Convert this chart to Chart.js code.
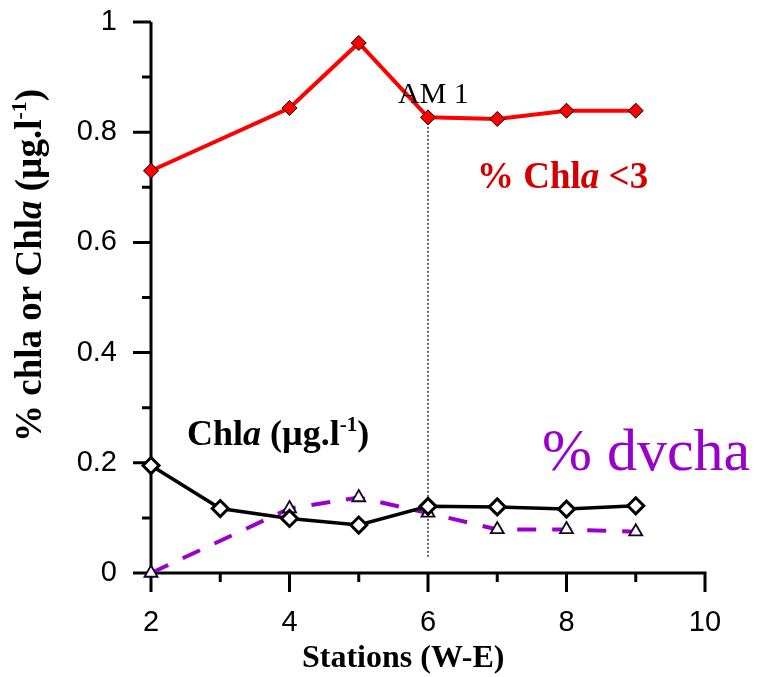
<!DOCTYPE html>
<html>
<head>
<meta charset="utf-8">
<script src="https://cdn.jsdelivr.net/npm/chart.js@4.4.0/dist/chart.umd.min.js"></script>
<style>
body { margin: 0; background: #fff; }
canvas { display: block; }
</style>
</head>
<body>
<canvas id="myChart" width="762" height="677"></canvas>
<script>
// values
const redStations = [2, 4, 5, 6, 7, 8, 9];
const chlaSmall = [0.730, 0.844, 0.962, 0.827, 0.824, 0.839, 0.839];
const blackStations = [2, 3, 4, 5, 6, 7, 8, 9];
const chlaConc = [0.195, 0.117, 0.099, 0.087, 0.121, 0.120, 0.116, 0.122];
const dvStations = [2, 4, 5, 6, 7, 8, 9];
const dvcha = [0, 0.117, 0.137, 0.109, 0.079, 0.079, 0.075];
const am1Station = 6;
const am1Range = [0.817, 0.029];
const xTickLabels = [2, 4, 6, 8, 10];
const yTickLabels = ['0', '0.2', '0.4', '0.6', '0.8', '1'];

const sans = '"Liberation Sans", Arial, sans-serif';
const serif = '"Liberation Serif", "Times New Roman", serif';

const pts = (xs, ys) => xs.map((x, i) => ({x: x, y: ys[i]}));

function drawRuns(ctx, x, y, runs, color) {
    ctx.fillStyle = color;
    ctx.textAlign = 'left';
    ctx.textBaseline = 'alphabetic';
    runs.forEach(r => {
        ctx.font = r[1];
        ctx.fillText(r[0], x, y + (r[2] || 0));
        x += ctx.measureText(r[0]).width;
    });
}

// axis lines with long (labelled) and short ticks
const axesPlugin = {
    id: 'axes',
    beforeDatasetsDraw(chart) {
        const {ctx, chartArea: a, scales: {x, y}} = chart;
        ctx.save();
        ctx.strokeStyle = '#000';
        ctx.lineWidth = 3;
        ctx.beginPath();
        ctx.moveTo(a.left, a.top);
        ctx.lineTo(a.left, a.bottom);
        ctx.moveTo(a.left - 1.5, a.bottom);
        ctx.lineTo(a.right + 1.5, a.bottom);
        y.ticks.forEach(t => {
            const py = y.getPixelForValue(t.value);
            const len = Math.round(t.value * 10) % 2 === 0 ? 18 : 9;
            ctx.moveTo(a.left - len, py);
            ctx.lineTo(a.left, py);
        });
        x.ticks.forEach(t => {
            const px = x.getPixelForValue(t.value);
            const len = Math.round(t.value) % 2 === 0 ? 19 : 9;
            ctx.moveTo(px, a.bottom);
            ctx.lineTo(px, a.bottom + len);
        });
        ctx.stroke();
        ctx.restore();
    }
};

const labelsPlugin = {
    id: 'labels',
    afterDraw(chart) {
        const ctx = chart.ctx;
        ctx.save();
        drawRuns(ctx, 398, 103, [['AM 1', '30px ' + serif]], '#000');
        drawRuns(ctx, 477, 188, [['% Chl', 'bold 37px ' + serif], ['a', 'italic bold 37px ' + serif], [' <3', 'bold 37px ' + serif]], '#d40000');
        drawRuns(ctx, 187, 445, [['Chl', 'bold 36px ' + serif], ['a', 'italic bold 36px ' + serif], [' (µg.l', 'bold 36px ' + serif], ['-1', 'bold 21px ' + serif, -14], [')', 'bold 36px ' + serif]], '#000');
        drawRuns(ctx, 542, 470, [['% dvcha', '60px ' + serif]], '#9900cc');
        drawRuns(ctx, 302, 667, [['Stations (W-E)', 'bold 32px ' + serif]], '#000');
        ctx.translate(41, 442);
        ctx.rotate(-Math.PI / 2);
        drawRuns(ctx, 0, 0, [['% chla or Chl', 'bold 37px ' + serif], ['a', 'italic bold 37px ' + serif], [' (µg.l', 'bold 37px ' + serif], ['-1', 'bold 22px ' + serif, -15], [')', 'bold 37px ' + serif]], '#000');
        ctx.restore();
    }
};

const ctx = document.getElementById('myChart').getContext('2d');
const myChart = new Chart(ctx, {
    type: 'scatter',
    data: {
        datasets: [{
            label: 'Chla',
            data: pts(blackStations, chlaConc),
            showLine: true,
            borderColor: '#000',
            borderWidth: 3.5,
            pointStyle: 'rectRot',
            pointRadius: 8,
            pointBackgroundColor: '#fff',
            pointBorderColor: '#000',
            pointBorderWidth: 3,
            clip: false
        }, {
            label: '% dvcha',
            data: pts(dvStations, dvcha),
            showLine: true,
            borderColor: '#9900cc',
            borderWidth: 4,
            borderDash: [19, 16],
            pointStyle: 'triangle',
            pointRadius: 7.5,
            pointBackgroundColor: '#fff',
            pointBorderColor: '#1a0026',
            pointBorderWidth: 1.8,
            clip: false
        }, {
            label: '% Chla <3',
            data: pts(redStations, chlaSmall),
            showLine: true,
            borderColor: '#ff0000',
            borderWidth: 4,
            pointStyle: 'rectRot',
            pointRadius: 7.5,
            pointBackgroundColor: '#ff0000',
            pointBorderColor: '#000',
            pointBorderWidth: 1,
            clip: false
        }, {
            label: 'AM 1',
            data: pts([am1Station, am1Station], am1Range),
            showLine: true,
            borderColor: '#000',
            borderWidth: 1.2,
            borderDash: [2, 2],
            pointRadius: 0,
            clip: false
        }]
    },
    options: {
        responsive: false,
        animation: false,
        devicePixelRatio: 1,
        layout: { padding: { top: 22, right: 57, left: 0, bottom: 0 } },
        plugins: { legend: { display: false }, tooltip: { enabled: false } },
        scales: {
            x: {
                type: 'linear',
                min: 2,
                max: 10,
                afterFit(s) { s.height = 104; s.paddingLeft = 0; s.paddingRight = 0; },
                grid: { display: false, drawTicks: false },
                border: { display: false },
                ticks: {
                    stepSize: 1,
                    autoSkip: false,
                    maxRotation: 0,
                    padding: 33,
                    color: '#000',
                    font: { family: sans, size: 29 },
                    callback: v => xTickLabels.includes(v) ? String(v) : ''
                }
            },
            y: {
                min: 0,
                max: 1,
                afterFit(s) { s.width = 151; s.paddingTop = 0; s.paddingBottom = 0; },
                grid: { display: false, drawTicks: false },
                border: { display: false },
                ticks: {
                    stepSize: 0.1,
                    autoSkip: false,
                    padding: 34,
                    color: '#000',
                    font: { family: sans, size: 29 },
                    callback: v => {
                        const k = Math.round(v * 10);
                        return k % 2 === 0 ? yTickLabels[k / 2] : '';
                    }
                }
            }
        }
    },
    plugins: [axesPlugin, labelsPlugin]
});
</script>
</body>
</html>
